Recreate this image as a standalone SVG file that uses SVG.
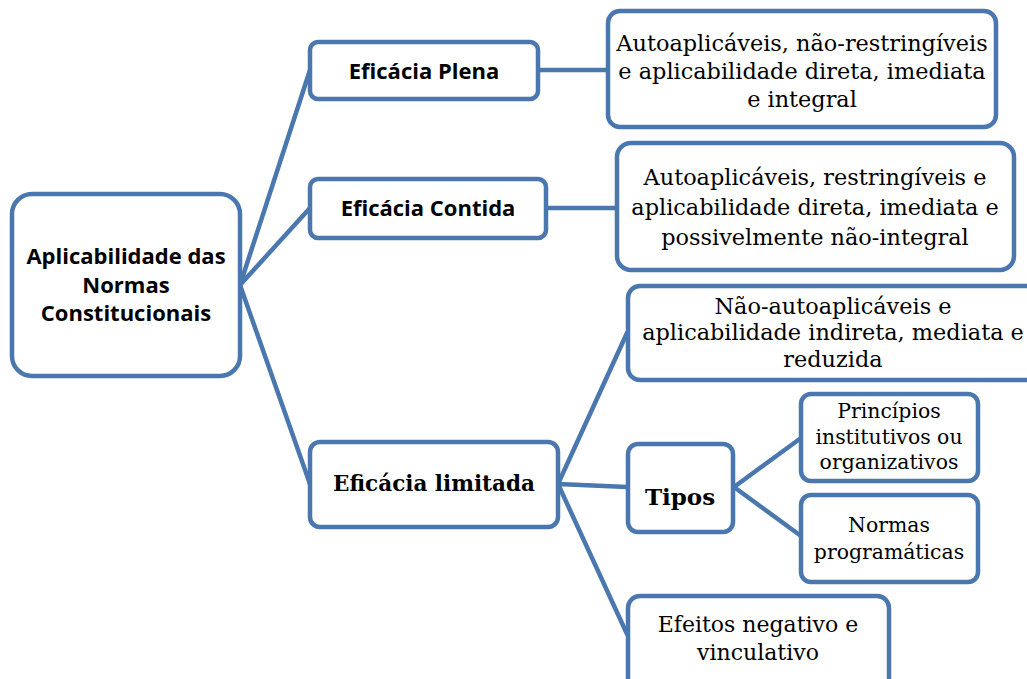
<svg xmlns="http://www.w3.org/2000/svg" width="1027" height="679" viewBox="0 0 1027 679">
<style>
.box{fill:#fff;stroke:#4a77ad;stroke-width:4.5}
.ln{stroke:#4a77ad;stroke-width:4.5;fill:none;stroke-linecap:round}
.sb{font-family:"Open Sans","Liberation Sans",sans-serif;font-weight:bold;fill:#000;text-anchor:middle}
.sr{font-family:"DejaVu Serif","Liberation Serif",serif;fill:#000;text-anchor:middle}
.srb{font-family:"DejaVu Serif","Liberation Serif",serif;font-weight:bold;fill:#000;text-anchor:middle}
</style>
<rect width="1027" height="679" fill="#fff"/>
<g id="connectors">
<path class="ln" d="M240 285L310 70M240 285L310 208M240 285L310 484"/>
<path class="ln" d="M538 70L606 70M546 208L617 208"/>
<path class="ln" d="M558 484L627 333M558 484L627 487M558 484L627 634"/>
<path class="ln" d="M734 487L801 438M734 487L801 536"/>
</g>
<g id="root">
<rect class="box" x="12" y="194" width="228" height="182" rx="20"/>
<text class="sb" font-size="22" x="126" y="264">Aplicabilidade das</text>
<text class="sb" font-size="22" x="126" y="293">Normas</text>
<text class="sb" font-size="22" x="126" y="321">Constitucionais</text>
</g>
<g id="plena">
<rect class="box" x="310" y="42" width="228" height="57" rx="8"/>
<text class="sb" font-size="22" x="424" y="79">Eficácia Plena</text>
</g>
<g id="contida">
<rect class="box" x="310" y="179" width="236" height="59" rx="8"/>
<text class="sb" font-size="22" x="428" y="216">Eficácia Contida</text>
</g>
<g id="limitada">
<rect class="box" x="310" y="442" width="248" height="85" rx="10"/>
<text class="srb" font-size="21.5" x="434" y="491">Eficácia limitada</text>
</g>
<g id="desc-plena">
<rect class="box" x="608" y="11" width="388" height="116" rx="12"/>
<text class="sr" font-size="22.4" x="802" y="51">Autoaplicáveis, não-restringíveis</text>
<text class="sr" font-size="22.4" x="802" y="79">e aplicabilidade direta, imediata</text>
<text class="sr" font-size="22.4" x="802" y="107">e integral</text>
</g>
<g id="desc-contida">
<rect class="box" x="617" y="143" width="397" height="127" rx="14"/>
<text class="sr" font-size="22.4" x="815" y="185">Autoaplicáveis, restringíveis e</text>
<text class="sr" font-size="22.4" x="815" y="215">aplicabilidade direta, imediata e</text>
<text class="sr" font-size="22.4" x="815" y="245">possivelmente não-integral</text>
</g>
<g id="desc-limitada">
<rect class="box" x="628" y="286" width="412" height="94" rx="12"/>
<text class="sr" font-size="22.4" x="833" y="314">Não-autoaplicáveis e</text>
<text class="sr" font-size="22.4" x="833" y="340">aplicabilidade indireta, mediata e</text>
<text class="sr" font-size="22.4" x="833" y="367">reduzida</text>
</g>
<g id="tipos">
<rect class="box" x="628" y="444" width="105" height="88" rx="10"/>
<text class="srb" font-size="23" x="680" y="505">Tipos</text>
</g>
<g id="principios">
<rect class="box" x="801" y="394" width="177" height="87" rx="10"/>
<text class="sr" font-size="20.4" x="889" y="418">Princípios</text>
<text class="sr" font-size="20.4" x="889" y="444">institutivos ou</text>
<text class="sr" font-size="20.4" x="889" y="469">organizativos</text>
</g>
<g id="programaticas">
<rect class="box" x="801" y="495" width="177" height="87" rx="10"/>
<text class="sr" font-size="20.4" x="889" y="532">Normas</text>
<text class="sr" font-size="20.4" x="889" y="559">programáticas</text>
</g>
<g id="efeitos">
<rect class="box" x="628" y="596" width="261" height="100" rx="12"/>
<text class="sr" font-size="22" x="758" y="632">Efeitos negativo e</text>
<text class="sr" font-size="22" x="758" y="660">vinculativo</text>
</g>
</svg>
